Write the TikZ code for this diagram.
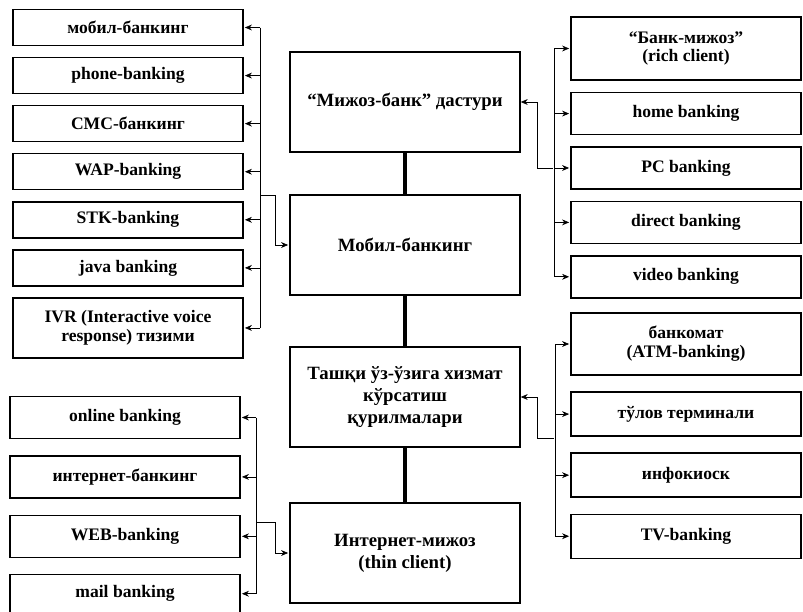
\documentclass[tikz,border=0pt]{standalone}
\usepackage{fontspec}
\setmainfont{Liberation Serif}
\usetikzlibrary{arrows.meta,positioning}
\tikzset{
  leaf/.style={draw,line width=1.2pt,minimum width=6.9cm,minimum height=1.08cm,align=center,font=\bfseries\fontsize{15}{16}\selectfont},
  mainbox/.style={draw,line width=1.2pt,minimum width=6.9cm,minimum height=3cm,align=center,font=\bfseries\fontsize{16}{19}\selectfont},
  link/.style={line width=0.6pt,shorten >=1pt},
  trunk/.style={line width=2.8pt}
}

\begin{document}
\begin{tikzpicture}[x=0.03cm,y=-0.03cm,>={Stealth[length=6pt,width=5pt]}]
  \useasboundingbox (0,0) rectangle (803,612);
  % main column
  \node[mainbox] (client) at (405,102) {“Мижоз-банк” дастури};
  \node[mainbox] (mobile) at (405,245) {Мобил-банкинг};
  \node[mainbox] (selfserv) at (405,397) {Ташқи ўз-ўзига хизмат\\кўрсатиш\\қурилмалари};
  \node[mainbox] (internet) at (405,553) {Интернет-мижоз\\(thin client)};
  \draw[trunk] (client) -- (mobile);
  \draw[trunk] (mobile) -- (selfserv);
  \draw[trunk] (selfserv) -- (internet);

  % mobile banking channels
  \node[leaf] (mobtop) at (128,27.5) {мобил-банкинг};
  \node[leaf,below=3.2mm of mobtop] (phone) {phone-banking};
  \node[leaf,below=3.2mm of phone] (sms) {СМС-банкинг};
  \node[leaf,below=3.2mm of sms] (wap) {WAP-banking};
  \node[leaf,below=3.2mm of wap] (stk) {STK-banking};
  \node[leaf,below=3.2mm of stk] (java) {java banking};
  \node[leaf,below=3.2mm of java,minimum height=1.8cm] (ivr) {IVR (Interactive voice\\response) тизими};
  \coordinate (mobbus) at (260,195);
  \draw[line width=0.6pt] (mobtop.east -| mobbus) -- (ivr.east -| mobbus);
  \foreach \n in {mobtop,phone,sms,wap,stk,java,ivr}
    \draw[link,->] (\n.east -| mobbus) -- (\n.east);
  \draw[link,->] (mobbus) -- ++(15,0) |- (mobile.west);

  % client-bank programs
  \node[leaf,minimum height=1.9cm] (rich) at (686,48.5) {“Банк-мижоз”\\(rich client)};
  \node[leaf,minimum height=1.26cm,below=3.3mm of rich] (home) {home banking};
  \node[leaf,minimum height=1.26cm,below=3.3mm of home] (pc) {PC banking};
  \node[leaf,minimum height=1.26cm,below=3.3mm of pc] (direct) {direct banking};
  \node[leaf,minimum height=1.26cm,below=3.3mm of direct] (video) {video banking};
  \coordinate (clibus) at (554,0);
  \draw[line width=0.6pt] (rich.west -| clibus) -- (video.west -| clibus);
  \foreach \n in {rich,home,pc,direct,video}
    \draw[link,->] (\n.west -| clibus) -- (\n.west);
  \draw[link,<-] (client.east) -- ++(17,0) |- (pc.west -| clibus);

  % self-service devices
  \node[leaf,minimum height=1.86cm] (atm) at (686,344) {банкомат\\(ATM-banking)};
  \node[leaf,minimum height=1.32cm,below=4.7mm of atm] (pos) {тўлов терминали};
  \node[leaf,minimum height=1.32cm,below=4.7mm of pos] (kiosk) {инфокиоск};
  \node[leaf,minimum height=1.32cm,below=4.7mm of kiosk] (tv) {TV-banking};
  \coordinate (selfbus) at (555,438);
  \draw[line width=0.6pt] (atm.west -| selfbus) -- (tv.west -| selfbus);
  \foreach \n in {atm,pos,kiosk,tv}
    \draw[link,->] (\n.west -| selfbus) -- (\n.west);
  \draw[link,<-] (selfserv.east) -- ++(17,0) |- (selfbus);

  % internet channels
  \node[leaf,minimum height=1.26cm] (online) at (125,417.5) {online banking};
  \node[leaf,minimum height=1.26cm,below=4.8mm of online] (inet) {интернет-банкинг};
  \node[leaf,minimum height=1.26cm,below=4.8mm of inet] (web) {WEB-banking};
  \node[leaf,minimum height=1.14cm,below=4.8mm of web] (mail) {mail banking};
  \coordinate (netbus) at (256,522);
  \draw[line width=0.6pt] (online.east -| netbus) -- (mail.east -| netbus);
  \foreach \n in {online,inet,web,mail}
    \draw[link,->] (\n.east -| netbus) -- (\n.east);
  \draw[link,->] (netbus) -- ++(19,0) |- (internet.west);
\end{tikzpicture}
\end{document}
